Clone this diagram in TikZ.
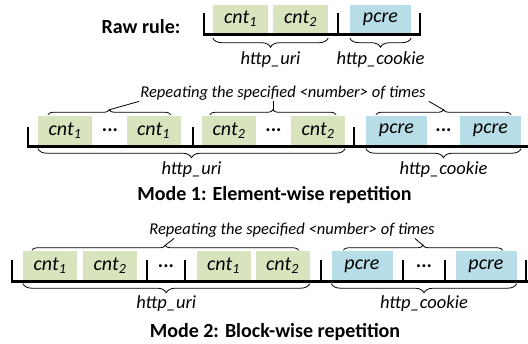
\documentclass[tikz,border=0pt]{standalone}
\usepackage{fontspec}
\setmainfont{Carlito}
\usetikzlibrary{decorations.pathreplacing}
\definecolor{cntgreen}{RGB}{215,228,189}
\definecolor{pcreblue}{RGB}{183,222,232}
\newcommand{\cnt}[1]{cnt\textsubscript{#1}}
\tikzset{
  cell/.style={inner sep=0pt,minimum height=29pt,font=\fontsize{20}{22}\selectfont\itshape},
  cntbox/.style={cell,fill=cntgreen,minimum width=54pt},
  pcrebox/.style={cell,fill=pcreblue,minimum width=61pt},
  gap/.style={inner sep=0pt,font=\fontsize{20}{22}\selectfont\bfseries},
  rail/.style={line width=2.6pt},
  brcup/.style={decorate,decoration={brace,amplitude=5pt},line width=0.8pt},
  brcdown/.style={decorate,decoration={brace,mirror,amplitude=9pt},line width=0.8pt},
  lbl/.style={font=\fontsize{18.5}{20}\selectfont\itshape},
  ttl/.style={font=\fontsize{20}{22}\selectfont\bfseries},
  rep/.style={font=\fontsize{16.5}{18}\selectfont\itshape,inner sep=1pt},
}

\begin{document}
\begin{tikzpicture}[x=1pt,y=-1pt]
\useasboundingbox (0,0) rectangle (528,344);
%raw rule
\node[ttl] (raw) at (141,27) {Raw rule:};
\draw[rail] (204,13) -- (204,34.3) -- (421,34.3);
\draw[rail] (338,13) -- (338,34.3);
\draw[rail] (420,13) -- (420,34.3);
\node[cntbox,minimum width=55pt,minimum height=28pt] (r1) at (240.5,19) {\cnt{1}};
\node[cntbox,minimum width=55pt,minimum height=28pt] (r2) at (300.5,19) {\cnt{2}};
\node[pcrebox,minimum height=28pt] (rp) at (380.5,19) {pcre};
\draw[brcdown] ([yshift=-5pt]r1.south west) -- ([yshift=-5pt]r2.south east)
  node[midway,yshift=-21pt,lbl] (ruri) {http\_uri};
\draw[brcdown] ([yshift=-5pt]rp.south west) -- ([yshift=-5pt]rp.south east)
  node[midway,yshift=-21pt,lbl] (rcookie) {http\_cookie};

%mode 1: element-wise
\node[rep] (rep1) at (283,93) {Repeating the specified <number> of times};
\draw[rail] (28,127) -- (28,146.3) -- (530,146.3);
\draw[rail] (193,127) -- (193,146.3);
\draw[rail] (354,127) -- (354,146.3);
\node[cntbox] (e1) at (65,130.5) {\cnt{1}};
\node[gap] (e1d) at (110,130.5) {...};
\node[cntbox] (e2) at (153.5,130.5) {\cnt{1}};
\node[cntbox] (e3) at (229,130.5) {\cnt{2}};
\node[gap] (e3d) at (273.5,130.5) {...};
\node[cntbox] (e4) at (318,130.5) {\cnt{2}};
\node[pcrebox] (e5) at (396.5,130.5) {pcre};
\node[gap] (e5d) at (443.5,130.5) {...};
\node[pcrebox] (e6) at (490.5,130.5) {pcre};
\draw[brcup] ([shift={(10pt,1pt)}]e1.north west) -- ([shift={(-10pt,1pt)}]e2.north east)
  coordinate[midway,yshift=5pt] (et1);
\draw[brcup] ([shift={(8pt,1pt)}]e3.north west) -- ([shift={(-9pt,1pt)}]e4.north east)
  coordinate[midway,yshift=5pt] (et2);
\draw[brcup] ([shift={(10pt,1pt)}]e5.north west) -- ([shift={(-10pt,1pt)}]e6.north east)
  coordinate[midway,yshift=5pt] (et3);
\draw[line width=0.8pt] (et1) -- (rep1.south west);
\draw[line width=0.8pt] (et2) -- (et2 |- rep1.south);
\draw[line width=0.8pt] (et3) -- ([xshift=2pt]rep1.south east);
\draw[brcdown] ([yshift=-3.5pt]e1.south west) -- ([yshift=-3.5pt]e4.south east)
  node[midway,yshift=-20.5pt,lbl] (euri) {http\_uri};
\draw[brcdown] ([yshift=-3.5pt]e5.south west) -- ([yshift=-3.5pt]e6.south east)
  node[midway,yshift=-20.5pt,lbl] (ecookie) {http\_cookie};
\node[ttl] (mode1) at (274.5,195) {Mode 1: Element-wise repetition};

%mode 2: block-wise
\node[rep] (rep2) at (292,230) {Repeating the specified <number> of times};
\draw[rail] (12,260) -- (12,281.8) -- (530,281.8);
\foreach \x in {147,185,321,403,445,526}
  \draw[rail] (\x,260) -- (\x,281.8);
\node[cntbox] (b1) at (50,266) {\cnt{1}};
\node[cntbox] (b2) at (110,266) {\cnt{2}};
\node[gap] (b2d) at (166,266) {...};
\node[cntbox] (b3) at (223.5,266) {\cnt{1}};
\node[cntbox] (b4) at (282.5,266) {\cnt{2}};
\node[pcrebox] (b5) at (362,266) {pcre};
\node[gap] (b5d) at (424,266) {...};
\node[pcrebox] (b6) at (486,266) {pcre};
\draw[brcup] ([shift={(9pt,1pt)}]b1.north west) -- ([shift={(-11pt,1pt)}]b4.north east)
  coordinate[midway,yshift=5pt] (bt1);
\draw[brcup] ([shift={(12pt,1pt)}]b5.north west) -- ([shift={(-14pt,1pt)}]b6.north east)
  coordinate[midway,yshift=5pt] (bt2);
\draw[line width=0.8pt] (bt1) -- ([xshift=26pt]rep2.south west);
\draw[line width=0.8pt] (bt2) -- ([xshift=-21pt]rep2.south east);
\draw[brcdown] ([yshift=-3pt]b1.south west) -- ([yshift=-3pt]b4.south east)
  node[midway,yshift=-20pt,lbl] (buri) {http\_uri};
\draw[brcdown] ([yshift=-3pt]b5.south west) -- ([yshift=-3pt]b6.south east)
  node[midway,yshift=-20pt,lbl] (bcookie) {http\_cookie};
\node[ttl] (mode2) at (275,332) {Mode 2: Block-wise repetition};
\end{tikzpicture}
\end{document}
